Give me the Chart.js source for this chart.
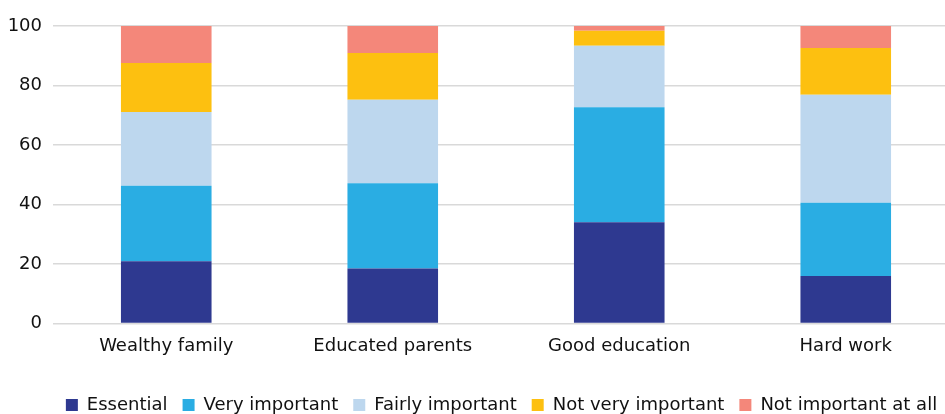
<!DOCTYPE html>
<html>
<head>
<meta charset="utf-8">
<script src="https://cdn.jsdelivr.net/npm/chart.js@4.4.1/dist/chart.umd.min.js"></script>
<style>
  html, body { margin: 0; padding: 0; background: #ffffff; overflow: hidden; }
  #wrap { width: 1000px; height: 414px; position: relative; }
</style>
</head>
<body>
<div id="wrap"><canvas id="c"></canvas></div>
<script>
const categories = ['Wealthy family', 'Educated parents', 'Good education', 'Hard work'];
const seriesNames = ['Essential', 'Very important', 'Fairly important', 'Not very important', 'Not important at all'];
const essential = [20.9, 18.5, 34.0, 15.9];
const veryImportant = [25.4, 28.6, 38.7, 24.7];
const fairlyImportant = [24.8, 28.1, 20.7, 36.3];
const notVeryImportant = [16.5, 15.7, 5.0, 15.7];
const notImportantAtAll = [12.4, 9.1, 1.6, 7.4];
const yTicks = [0, 20, 40, 60, 80, 100];
const colors = ['#2E3990', '#2AADE3', '#BDD7EE', '#FDC010', '#F4877A'];

const values = [essential, veryImportant, fairlyImportant, notVeryImportant, notImportantAtAll];
const FONT = "'DejaVu Sans'";

const legendShift = {
  id: 'legendShift',
  afterLayout(chart) {
    const l = chart.legend;
    if (!l) return;
    const dx = 22, dy = 20;
    l.left += dx; l.right += dx;
    l.top += dy; l.bottom += dy;
  }
};

new Chart(document.getElementById('c'), {
  type: 'bar',
  data: {
    labels: categories,
    datasets: seriesNames.map((n, i) => ({
      label: n,
      data: values[i],
      backgroundColor: colors[i],
      borderWidth: 0,
      barPercentage: 0.8,
      categoryPercentage: 0.5
    }))
  },
  plugins: [legendShift],
  options: {
    responsive: true,
    maintainAspectRatio: false,
    animation: false,
    layout: { padding: { top: 26, right: 41, left: 0, bottom: 10 } },
    plugins: {
      tooltip: { enabled: false },
      legend: {
        position: 'bottom',
        labels: {
          boxWidth: 12, boxHeight: 12, padding: 15,
          color: '#111', font: { family: FONT, size: 18 }
        }
      }
    },
    scales: {
      x: {
        stacked: true,
        grid: { display: false },
        border: { display: false },
        ticks: { color: '#111', font: { family: FONT, size: 18 }, padding: 4 }
      },
      y: {
        stacked: true,
        min: 0, max: 100,
        afterFit: s => { s.width = 53; },
        afterBuildTicks: s => { s.ticks = yTicks.map(v => ({ value: v })); },
        grid: { color: '#d9d9d9', lineWidth: 1.5, drawTicks: false },
        border: { display: false },
        ticks: { color: '#111', font: { family: FONT, size: 18 }, padding: 11 }
      }
    }
  }
});
</script>
</body>
</html>
